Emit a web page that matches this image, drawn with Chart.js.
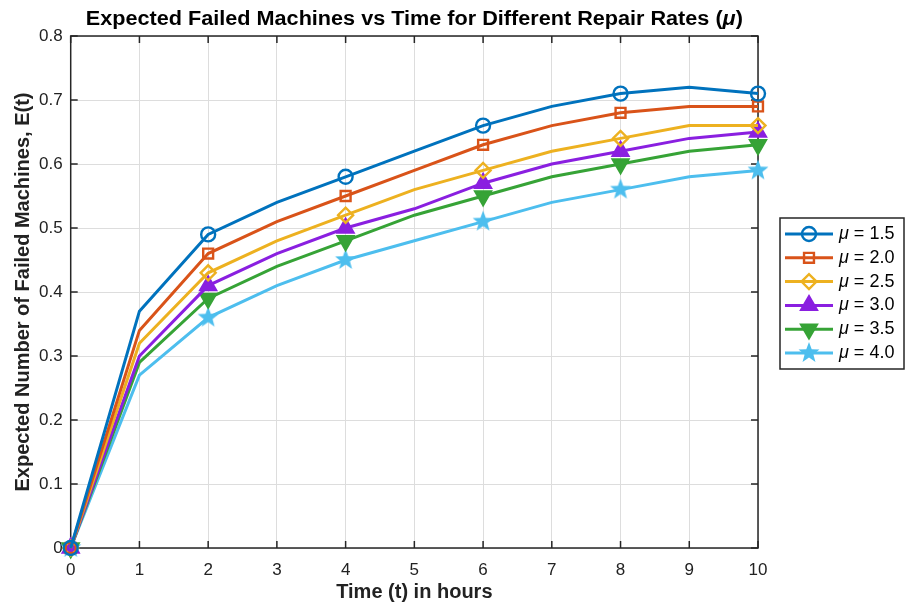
<!DOCTYPE html>
<html>
<head>
<meta charset="utf-8">
<script src="https://cdn.jsdelivr.net/npm/chart.js@4.4.1/dist/chart.umd.min.js"></script>
<style>
  html, body { margin: 0; padding: 0; background: #fff; }
  canvas { display: block; }
</style>
</head>
<body>
<canvas id="chart" width="908" height="610"></canvas>
<script>
// Data
var times = [0, 1, 2, 3, 4, 5, 6, 7, 8, 9, 10];
var muLabels = ['1.5', '2.0', '2.5', '3.0', '3.5', '4.0'];
var mu15 = [0, 0.37, 0.49, 0.54, 0.58, 0.62, 0.66, 0.69, 0.71, 0.72, 0.71];
var mu20 = [0, 0.34, 0.46, 0.51, 0.55, 0.59, 0.63, 0.66, 0.68, 0.69, 0.69];
var mu25 = [0, 0.32, 0.43, 0.48, 0.52, 0.56, 0.59, 0.62, 0.64, 0.66, 0.66];
var mu30 = [0, 0.30, 0.41, 0.46, 0.50, 0.53, 0.57, 0.60, 0.62, 0.64, 0.65];
var mu35 = [0, 0.29, 0.39, 0.44, 0.48, 0.52, 0.55, 0.58, 0.60, 0.62, 0.63];
var mu40 = [0, 0.27, 0.36, 0.41, 0.45, 0.48, 0.51, 0.54, 0.56, 0.58, 0.59];
var markerTimes = [0, 2, 4, 6, 8, 10]; // markers only shown on these
var xTicks = [0, 1, 2, 3, 4, 5, 6, 7, 8, 9, 10];
var yTicks = [0, 0.1, 0.2, 0.3, 0.4, 0.5, 0.6, 0.7, 0.8];

var FONT = '"Liberation Sans", Arial, Helvetica, sans-serif';
var colors = ['#0072BD', '#D95319', '#EDB120', '#8A1FE0', '#36A336', '#4DBEEE'];

// filled star marker (Chart.js 'star' is only strokes)
function makeStar(color, r) {
    var c = document.createElement('canvas');
    c.width = c.height = r * 2 + 2;
    var g = c.getContext('2d');
    var cx = r + 1, cy = r + 1;
    g.beginPath();
    for (var i = 0; i < 10; i++) {
        var rr = i % 2 === 0 ? r : r * 0.42;
        var a = -Math.PI / 2 + i * Math.PI / 5;
        g.lineTo(cx + rr * Math.cos(a), cy + rr * Math.sin(a));
    }
    g.closePath();
    g.fillStyle = color;
    g.fill();
    return c;
}
var starImg = makeStar(colors[5], 11);

var series = [mu15, mu20, mu25, mu30, mu35, mu40];
var markers = [
    { style: 'circle', radius: 7, fill: false, rot: 0 },
    { style: 'rect', radius: 7, fill: false, rot: 0 },
    { style: 'rectRot', radius: 7.5, fill: false, rot: 0 },
    { style: 'triangle', radius: 9, fill: true, rot: 0 },
    { style: 'triangle', radius: 9, fill: true, rot: 180 },
    { style: starImg, radius: 11, fill: true, rot: 0 }
];

var datasets = series.map(function(vals, i) {
    return {
        label: 'μ = ' + muLabels[i],
        data: times.map(function(t, j) { return { x: t, y: vals[j] }; }),
        borderColor: colors[i],
        backgroundColor: markers[i].fill ? colors[i] : 'rgba(0,0,0,0)',
        borderWidth: 3,
        pointStyle: markers[i].style,
        pointRadius: times.map(function(t) {
            return markerTimes.indexOf(t) >= 0 ? markers[i].radius : 0;
        }),
        legendRadius: markers[i].radius,
        pointRotation: markers[i].rot,
        pointBorderWidth: 2.4,
        pointBorderColor: colors[i],
        pointBackgroundColor: markers[i].fill ? colors[i] : 'rgba(0,0,0,0)',
        tension: 0,
        clip: false
    };
});

// MATLAB-like box with inward ticks, title and boxed legend
var matlabLook = {
    id: 'matlabLook',
    beforeDatasetsDraw: function(chart) {
        var ctx = chart.ctx, a = chart.chartArea;
        var xs = chart.scales.x, ys = chart.scales.y;
        ctx.save();
        ctx.strokeStyle = '#262626';
        ctx.lineWidth = 1.5;
        ctx.strokeRect(a.left, a.top, a.right - a.left, a.bottom - a.top);
        ctx.beginPath();
        xTicks.forEach(function(v) {
            var px = xs.getPixelForValue(v);
            ctx.moveTo(px, a.bottom); ctx.lineTo(px, a.bottom - 7);
            ctx.moveTo(px, a.top); ctx.lineTo(px, a.top + 7);
        });
        yTicks.forEach(function(v) {
            var py = ys.getPixelForValue(v);
            ctx.moveTo(a.left, py); ctx.lineTo(a.left + 7, py);
            ctx.moveTo(a.right, py); ctx.lineTo(a.right - 7, py);
        });
        ctx.stroke();
        ctx.restore();
    },
    afterDraw: function(chart) {
        var ctx = chart.ctx, a = chart.chartArea;
        ctx.save();

        // title with italic mu
        var t1 = 'Expected Failed Machines vs Time for Different Repair Rates (';
        var bold = 'bold 20px ' + FONT, boldIt = 'italic bold 20px ' + FONT;
        ctx.font = bold;
        var w1 = ctx.measureText(t1).width, w3 = ctx.measureText(')').width;
        ctx.font = boldIt;
        var w2 = ctx.measureText('μ').width;
        var total = w1 + w2 + w3;
        var sx = 657 / total;
        ctx.translate((a.left + a.right) / 2, 19);
        ctx.scale(sx, 1);
        var x = -total / 2;
        ctx.fillStyle = '#000';
        ctx.textBaseline = 'middle';
        ctx.textAlign = 'left';
        ctx.font = bold; ctx.fillText(t1, x, 0); x += w1;
        ctx.font = boldIt; ctx.fillText('μ', x, 0); x += w2;
        ctx.font = bold; ctx.fillText(')', x, 0);
        ctx.setTransform(1, 0, 0, 1, 0, 0);

        // legend
        var lx = 780, ly = 218, lw = 124, lh = 151;
        ctx.fillStyle = '#fff';
        ctx.fillRect(lx, ly, lw, lh);
        ctx.strokeStyle = '#262626';
        ctx.lineWidth = 1.5;
        ctx.strokeRect(lx, ly, lw, lh);
        chart.data.datasets.forEach(function(ds, i) {
            var yy = 234 + i * 23.8;
            ctx.strokeStyle = ds.borderColor;
            ctx.lineWidth = 3;
            ctx.beginPath();
            ctx.moveTo(785, yy); ctx.lineTo(833, yy);
            ctx.stroke();
            if (Chart.helpers && Chart.helpers.drawPoint) {
                ctx.lineWidth = ds.pointBorderWidth;
                ctx.strokeStyle = ds.pointBorderColor;
                ctx.fillStyle = ds.pointBackgroundColor;
                Chart.helpers.drawPoint(ctx, {
                    pointStyle: ds.pointStyle,
                    rotation: ds.pointRotation,
                    radius: ds.legendRadius,
                    borderWidth: ds.pointBorderWidth
                }, 809, yy);
            }
            ctx.fillStyle = '#000';
            ctx.textBaseline = 'middle';
            ctx.textAlign = 'left';
            ctx.font = 'italic 18px ' + FONT;
            ctx.fillText('μ', 839, yy);
            var wm = ctx.measureText('μ').width;
            ctx.font = '18px ' + FONT;
            ctx.fillText(' = ' + muLabels[i], 839 + wm, yy);
        });
        ctx.restore();
    }
};

var ctx = document.getElementById('chart');
var myChart = new Chart(ctx, {
    type: 'line',
    data: { datasets: datasets },
    options: {
        responsive: false,
        animation: false,
        devicePixelRatio: 1,
        layout: { padding: { top: 36, right: 150, left: 0, bottom: 0 } },
        plugins: {
            legend: { display: false },
            title: { display: false },
            tooltip: { enabled: false }
        },
        scales: {
            x: {
                type: 'linear',
                min: 0,
                max: 10,
                afterFit: function(s) { s.height = 62; },
                afterBuildTicks: function(s) {
                    s.ticks = xTicks.map(function(v) { return { value: v }; });
                },
                grid: { color: '#dddddd', lineWidth: 1, drawTicks: false },
                border: { display: false },
                ticks: {
                    padding: 12,
                    color: '#222',
                    font: { family: FONT, size: 17 },
                    maxRotation: 0
                },
                title: {
                    display: true,
                    text: 'Time (t) in hours',
                    color: '#222',
                    font: { family: FONT, size: 20, weight: 'bold' },
                    padding: { top: 0, bottom: 6 }
                }
            },
            y: {
                min: 0,
                max: 0.8,
                afterFit: function(s) { s.width = 70.7; },
                afterBuildTicks: function(s) {
                    s.ticks = yTicks.map(function(v) { return { value: v }; });
                },
                grid: { color: '#dddddd', lineWidth: 1, drawTicks: false },
                border: { display: false },
                ticks: {
                    padding: 8,
                    color: '#222',
                    font: { family: FONT, size: 17 },
                    callback: function(v) { return v === 0 ? '0' : v.toFixed(1); }
                },
                title: {
                    display: true,
                    text: 'Expected Number of Failed Machines, E(t)',
                    color: '#222',
                    font: { family: FONT, size: 20, weight: 'bold' },
                    padding: { top: 11, bottom: 0 }
                }
            }
        }
    },
    plugins: [matlabLook]
});
</script>
</body>
</html>
